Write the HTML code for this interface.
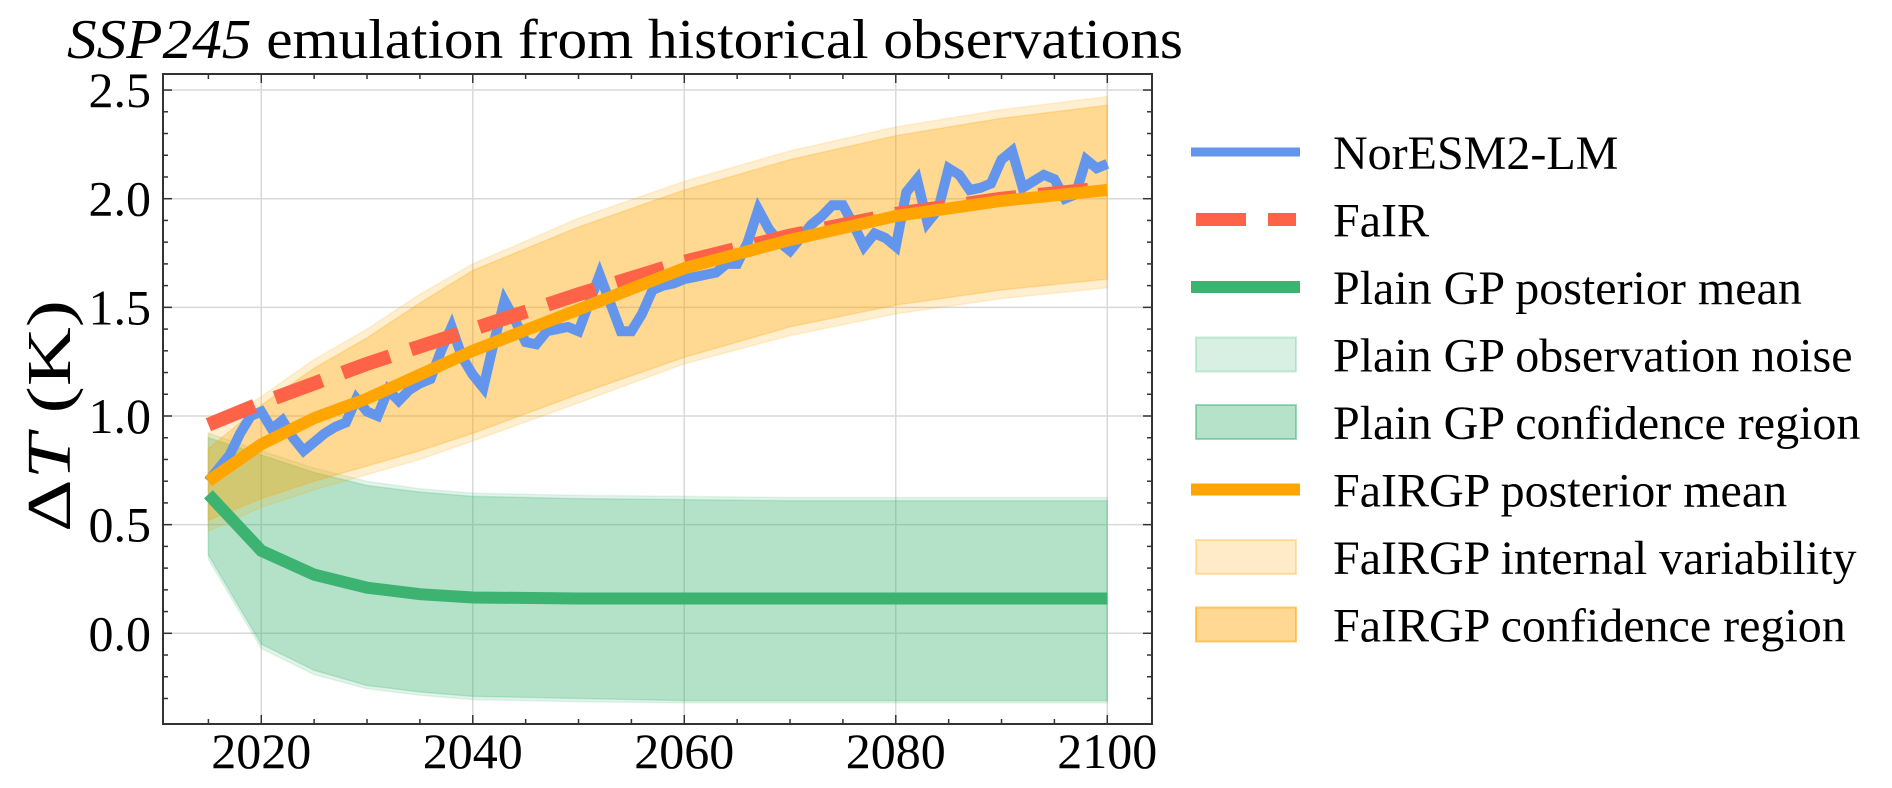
<!DOCTYPE html>
<html><head><meta charset="utf-8">
<style>
html,body{margin:0;padding:0;background:#fff;}
svg{display:block;font-family:"Liberation Serif","DejaVu Serif",serif;}
</style></head>
<body>
<svg id="chart" width="1892" height="788" viewBox="0 0 1892 788">
  <text x="67" y="58" font-size="56" textLength="1116" lengthAdjust="spacingAndGlyphs" fill="#000"><tspan font-style="italic">SSP245</tspan> emulation from historical observations</text>
  <text transform="translate(70,416) rotate(-90)" text-anchor="middle" font-size="62" textLength="232" lengthAdjust="spacingAndGlyphs" fill="#000">Δ<tspan font-style="italic">T</tspan> (K)</text>
  <g id="plot"></g>
  <g id="legend"></g>
</svg>
<script>
const years = [2015,2020,2025,2030,2035,2040,2050,2060,2070,2080,2090,2100];
const fairgpMean = [0.70,0.87,0.99,1.08,1.19,1.30,1.49,1.68,1.81,1.92,1.99,2.04];
const fairgpConfUpper = [0.85,1.05,1.22,1.36,1.52,1.67,1.87,2.04,2.18,2.29,2.37,2.43];
const fairgpConfLower = [0.52,0.62,0.70,0.77,0.84,0.92,1.10,1.27,1.41,1.51,1.58,1.63];
const fairgpVarUpper = [0.92,1.09,1.26,1.40,1.56,1.70,1.91,2.08,2.22,2.33,2.41,2.47];
const fairgpVarLower = [0.47,0.58,0.66,0.73,0.80,0.885,1.06,1.24,1.37,1.47,1.54,1.59];
const plainMean = [0.64,0.38,0.27,0.21,0.18,0.165,0.16,0.16,0.16,0.16,0.16,0.16];
const plainConfUpper = [0.90,0.82,0.74,0.68,0.65,0.63,0.62,0.615,0.61,0.61,0.61,0.61];
const plainConfLower = [0.36,-0.05,-0.17,-0.24,-0.27,-0.29,-0.30,-0.31,-0.31,-0.31,-0.31,-0.31];
const plainNoiseUpper = [0.92,0.84,0.76,0.70,0.665,0.645,0.635,0.63,0.625,0.625,0.625,0.625];
const plainNoiseLower = [0.34,-0.07,-0.19,-0.255,-0.285,-0.305,-0.315,-0.32,-0.32,-0.32,-0.32,-0.32];
const fairValues = [0.96,1.06,1.15,1.24,1.32,1.40,1.56,1.71,1.83,1.93,2.00,2.05];
const esmStartYear = 2015;
const esmValues = [0.70,0.76,0.82,0.92,1.00,1.02,0.94,0.98,0.90,0.84,0.88,0.92,0.95,0.97,1.08,1.02,1.00,1.12,1.07,1.12,1.15,1.17,1.30,1.41,1.27,1.19,1.13,1.34,1.53,1.44,1.34,1.33,1.39,1.40,1.41,1.39,1.52,1.65,1.52,1.39,1.39,1.47,1.58,1.60,1.61,1.63,1.64,1.65,1.66,1.70,1.70,1.80,1.95,1.86,1.80,1.76,1.82,1.88,1.92,1.97,1.97,1.88,1.78,1.84,1.82,1.78,2.03,2.09,1.89,1.95,2.14,2.11,2.04,2.05,2.07,2.18,2.22,2.05,2.08,2.11,2.09,2.00,2.02,2.18,2.14,2.16];
const xTickLabels = [2020,2040,2060,2080,2100];
const yTickLabels = ["0.0","0.5","1.0","1.5","2.0","2.5"];
const legendLabels = ["NorESM2-LM","FaIR","Plain GP posterior mean","Plain GP observation noise","Plain GP confidence region","FaIRGP posterior mean","FaIRGP internal variability","FaIRGP confidence region"];

const L=163,R=1152,T=74,B=724;
const X = y => 208.4 + (y-2015)*10.575;
const Y = v => 633.3 - v*217.3;
const NS="http://www.w3.org/2000/svg";
const plot=document.getElementById('plot');
const legend=document.getElementById('legend');
function mk(tag,attrs,parent){const e=document.createElementNS(NS,tag);for(const k in attrs)e.setAttribute(k,attrs[k]);(parent||plot).appendChild(e);return e;}

for(const yr of xTickLabels){const g=mk('line',{x1:X(yr),x2:X(yr),y1:T,y2:B,stroke:'#d9d9d9','stroke-width':1.5});

}
for(const t of yTickLabels){const v=parseFloat(t);const g=mk('line',{x1:L,x2:R,y1:Y(v),y2:Y(v),stroke:'#d9d9d9','stroke-width':1.5});

}

function band(up,lo,fill,op,name){
  let d='M'+years.map((y,i)=>X(y)+','+Y(up[i])).join('L');
  d+='L'+years.slice().reverse().map((y,j)=>X(y)+','+Y(lo[years.length-1-j])).join('L')+'Z';
  const p=mk('path',{d:d,fill:fill,'fill-opacity':op,stroke:fill,'stroke-opacity':op*0.8,'stroke-width':1.5});
  
  
}
function line(xs,vs,color,w,name,dash){
  const pts=xs.map((y,i)=>X(y)+','+Y(vs[i])).join(' ');
  const p=mk('polyline',{points:pts,fill:'none',stroke:color,'stroke-width':w,'stroke-linejoin':'miter'});
  if(dash)p.setAttribute('stroke-dasharray',dash);
  
  
}
band(plainNoiseUpper,plainNoiseLower,'#3CB371',0.15,'plain-gp-noise-band');
band(plainConfUpper,plainConfLower,'#3CB371',0.28,'plain-gp-confidence-band');
band(fairgpVarUpper,fairgpVarLower,'#FFA500',0.18,'fairgp-variability-band');
band(fairgpConfUpper,fairgpConfLower,'#FFA500',0.3,'fairgp-confidence-band');
const esmYears=esmValues.map((v,i)=>esmStartYear+i);
line(esmYears,esmValues,'#6495ED',10,'noresm-line');
line(years,fairValues,'#FF6347',14,'fair-line','50 22');
line(years,plainMean,'#3CB371',12,'plain-gp-mean-line');
line(years,fairgpMean,'#FFA500',12,'fairgp-mean-line');

const fr=mk('rect',{x:L,y:T,width:R-L,height:B-T,fill:'none',stroke:'#333','stroke-width':2});


for(let yr=2015;yr<=2100;yr+=5){const major=xTickLabels.includes(yr);const len=major?9:5;
 const a=mk('line',{x1:X(yr),x2:X(yr),y1:B,y2:B-len,stroke:'#333','stroke-width':1.5});
 
 
 const b=mk('line',{x1:X(yr),x2:X(yr),y1:T,y2:T+len,stroke:'#333','stroke-width':1.5});
 
 }
for(let k=-3;k<=27;k++){const v=k/10;const y=Y(v);if(y<T||y>B)continue;const major=(k%5===0);const len=major?9:5;
 const a=mk('line',{x1:L,x2:L+len,y1:y,y2:y,stroke:'#333','stroke-width':1.5});
 
 
 const b=mk('line',{x1:R,x2:R-len,y1:y,y2:y,stroke:'#333','stroke-width':1.5});
 
 }
for(const yr of xTickLabels){const t=mk('text',{x:X(yr),y:768,'text-anchor':'middle','font-size':50,fill:'#000'});t.textContent=yr;
 
 }
for(const s of yTickLabels){const t=mk('text',{x:151,y:Y(parseFloat(s))+17,'text-anchor':'end','font-size':50,fill:'#000'});t.textContent=s;
 
 }

const kinds=[['line','#6495ED'],['dash','#FF6347'],['line','#3CB371'],['patch','#3CB371',0.2],['patch','#3CB371',0.38],['line','#FFA500'],['patch','#FFA500',0.22],['patch','#FFA500',0.42]];
legendLabels.forEach((lab,i)=>{
 const cy=152+i*67.5;const k=kinds[i];
 if(k[0]==='line'){const e=mk('line',{x1:1191,x2:1300,y1:cy,y2:cy,stroke:k[1],'stroke-width':i===0?9:12},legend);
  
  }
 else if(k[0]==='dash'){const e=mk('line',{x1:1196,x2:1296,y1:cy,y2:cy,stroke:k[1],'stroke-width':13,'stroke-dasharray':'50 22'},legend);
  
  }
 else {const e=mk('rect',{x:1196,y:cy-17,width:100,height:34,fill:k[1],'fill-opacity':k[2],stroke:k[1],'stroke-opacity':k[2]*1.3,'stroke-width':2},legend);
  
  }
 const t=mk('text',{x:1333,y:cy+17,'font-size':48,fill:'#000'},legend);t.textContent=lab;
 
 
});
</script>
</body></html>
